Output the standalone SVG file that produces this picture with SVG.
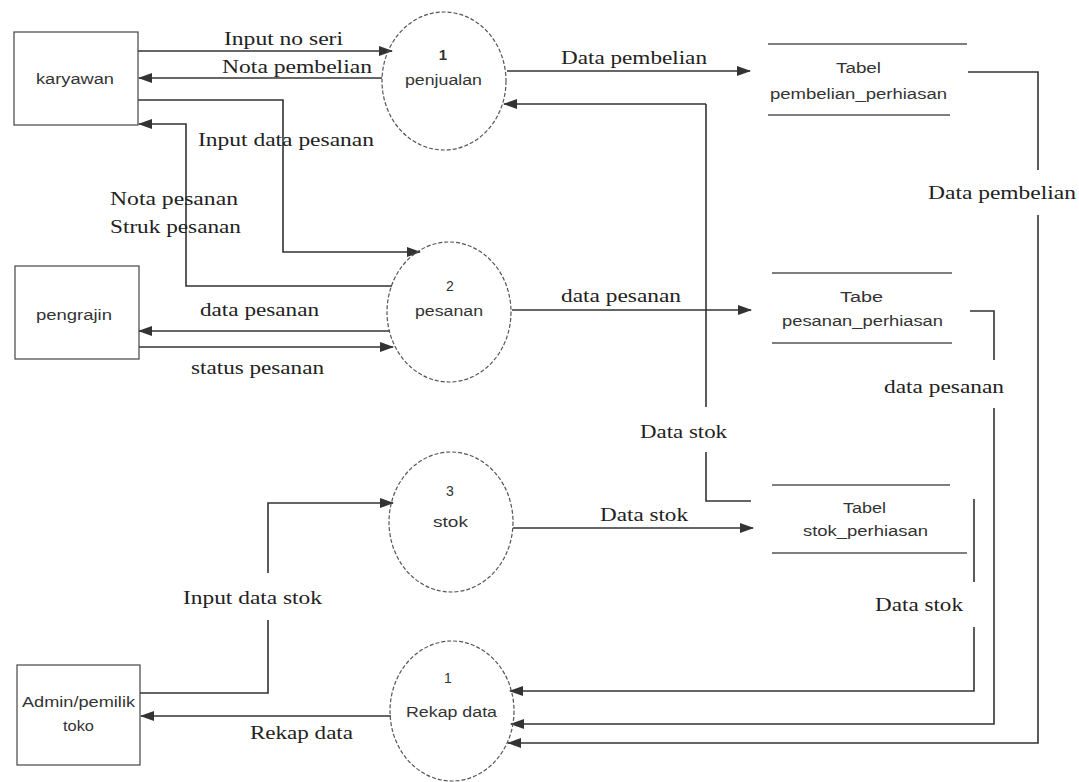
<svg xmlns="http://www.w3.org/2000/svg" width="1079" height="782" viewBox="0 0 1079 782">
<defs>
<marker id="ah" markerWidth="14" markerHeight="10" refX="13" refY="5" orient="auto" markerUnits="userSpaceOnUse">
<path d="M0,0 L14,5 L0,10 Z" fill="#333"/>
</marker>
<style>
.bg{fill:#fff}
.box{fill:none;stroke:#444;stroke-width:1.2}
.proc{fill:none;stroke:#555;stroke-width:1.2;stroke-dasharray:4 2}
.store{stroke:#555;stroke-width:1.3}
.fl{fill:none;stroke:#333;stroke-width:1.6}
.arr{marker-end:url(#ah)}
.nd{font-family:"Liberation Sans",Arial,sans-serif;font-size:14px;fill:#333}
.num{font-family:"Liberation Sans",Arial,sans-serif;font-size:15px;fill:#333;font-weight:bold}
.lb{font-family:"Liberation Serif","Times New Roman",serif;font-size:19px;fill:#222}
</style>
</defs>
<rect class="bg" x="0" y="0" width="1079" height="782"/>

<g id="connectors">
<path class="fl arr" d="M138,51 L392,51"/>
<path class="fl arr" d="M382,78 L139,78"/>
<path class="fl arr" d="M138,100 L283,100 L283,252 L420,252"/>
<path class="fl arr" d="M392,286 L186,286 L186,124 L139,124"/>
<path class="fl arr" d="M390,331 L139,331"/>
<path class="fl arr" d="M139,347 L393,347"/>
<path class="fl arr" d="M507,71 L750,71"/>
<path class="fl arr" d="M512,310 L751,310"/>
<path class="fl arr" d="M513,528 L753,528"/>
<path class="fl" d="M706,407 L706,104"/>
<path class="fl arr" d="M706,104 L504,104"/>
<path class="fl" d="M751,501 L706,501 L706,452"/>
<path class="fl" d="M968,72 L1038,72 L1038,170"/>
<path class="fl arr" d="M1038,215 L1038,743 L508,743"/>
<path class="fl" d="M970,311 L994,311 L994,360"/>
<path class="fl arr" d="M994,408 L994,724 L511,724"/>
<path class="fl" d="M974,499 L974,582"/>
<path class="fl arr" d="M974,627 L974,691 L510,691"/>
<path class="fl" d="M140,693 L268,693 L268,620"/>
<path class="fl arr" d="M268,573 L268,503 L393,503"/>
<path class="fl arr" d="M391,716 L141,716"/>
</g>

<g id="labels">
<text class="lb" x="224" y="45" textLength="119" lengthAdjust="spacingAndGlyphs">Input no seri</text>
<text class="lb" x="222" y="73" textLength="150" lengthAdjust="spacingAndGlyphs">Nota pembelian</text>
<text class="lb" x="198" y="146" textLength="176" lengthAdjust="spacingAndGlyphs">Input data pesanan</text>
<text class="lb" x="110" y="205" textLength="128" lengthAdjust="spacingAndGlyphs">Nota pesanan</text>
<text class="lb" x="110" y="233" textLength="131" lengthAdjust="spacingAndGlyphs">Struk pesanan</text>
<text class="lb" x="200" y="316" textLength="119" lengthAdjust="spacingAndGlyphs">data pesanan</text>
<text class="lb" x="191" y="374" textLength="133" lengthAdjust="spacingAndGlyphs">status pesanan</text>
<text class="lb" x="561" y="64" textLength="146" lengthAdjust="spacingAndGlyphs">Data pembelian</text>
<text class="lb" x="561" y="302" textLength="120" lengthAdjust="spacingAndGlyphs">data pesanan</text>
<text class="lb" x="640" y="438" textLength="87" lengthAdjust="spacingAndGlyphs">Data stok</text>
<text class="lb" x="600" y="521" textLength="88" lengthAdjust="spacingAndGlyphs">Data stok</text>
<text class="lb" x="928" y="199" textLength="148" lengthAdjust="spacingAndGlyphs">Data pembelian</text>
<text class="lb" x="884" y="393" textLength="120" lengthAdjust="spacingAndGlyphs">data pesanan</text>
<text class="lb" x="875" y="611" textLength="88" lengthAdjust="spacingAndGlyphs">Data stok</text>
<text class="lb" x="183" y="604" textLength="139" lengthAdjust="spacingAndGlyphs">Input data stok</text>
<text class="lb" x="250" y="739" textLength="103" lengthAdjust="spacingAndGlyphs">Rekap data</text>
</g>

<g id="karyawan">
<rect class="box" x="14" y="32" width="124" height="93"/>
<text class="nd" x="36" y="84" textLength="78" lengthAdjust="spacingAndGlyphs">karyawan</text>
</g>
<g id="pengrajin">
<rect class="box" x="15" y="266" width="124" height="93"/>
<text class="nd" x="36" y="320" textLength="76" lengthAdjust="spacingAndGlyphs">pengrajin</text>
</g>
<g id="admin">
<rect class="box" x="17" y="665" width="123" height="100"/>
<text class="nd" x="22" y="707" textLength="113" lengthAdjust="spacingAndGlyphs">Admin/pemilik</text>
<text class="nd" x="63" y="731" textLength="31" lengthAdjust="spacingAndGlyphs">toko</text>
</g>

<g id="p1">
<ellipse class="proc" cx="444" cy="81" rx="62" ry="69"/>
<text class="num" x="443" y="60" text-anchor="middle">1</text>
<text class="nd" x="405" y="85" textLength="77" lengthAdjust="spacingAndGlyphs">penjualan</text>
</g>
<g id="p2">
<ellipse class="proc" cx="449" cy="312" rx="62" ry="70"/>
<text class="nd" x="450" y="291" text-anchor="middle" font-size="15">2</text>
<text class="nd" x="415" y="316" textLength="68" lengthAdjust="spacingAndGlyphs">pesanan</text>
</g>
<g id="p3">
<ellipse class="proc" cx="451" cy="522" rx="62" ry="70"/>
<text class="nd" x="450" y="496" text-anchor="middle" font-size="15">3</text>
<text class="nd" x="433" y="527" textLength="35" lengthAdjust="spacingAndGlyphs">stok</text>
</g>
<g id="p4">
<ellipse class="proc" cx="452" cy="711" rx="62" ry="70"/>
<text class="nd" x="448" y="683" text-anchor="middle" font-size="15">1</text>
<text class="nd" x="406" y="717" textLength="91" lengthAdjust="spacingAndGlyphs">Rekap data</text>
</g>

<g id="tabel_pembelian">
<line class="store" x1="768" y1="44" x2="967" y2="44"/>
<line class="store" x1="768" y1="115" x2="950" y2="115"/>
<text class="nd" x="836" y="73" textLength="45" lengthAdjust="spacingAndGlyphs">Tabel</text>
<text class="nd" x="770" y="99" textLength="177" lengthAdjust="spacingAndGlyphs">pembelian_perhiasan</text>
</g>
<g id="tabel_pesanan">
<line class="store" x1="772" y1="273" x2="952" y2="273"/>
<line class="store" x1="772" y1="343" x2="952" y2="343"/>
<text class="nd" x="840" y="302" textLength="43" lengthAdjust="spacingAndGlyphs">Tabe</text>
<text class="nd" x="782" y="326" textLength="161" lengthAdjust="spacingAndGlyphs">pesanan_perhiasan</text>
</g>
<g id="tabel_stok">
<line class="store" x1="772" y1="485" x2="950" y2="485"/>
<line class="store" x1="772" y1="553" x2="967" y2="553"/>
<text class="nd" x="843" y="513" textLength="43" lengthAdjust="spacingAndGlyphs">Tabel</text>
<text class="nd" x="803" y="536" textLength="125" lengthAdjust="spacingAndGlyphs">stok_perhiasan</text>
</g>
</svg>
